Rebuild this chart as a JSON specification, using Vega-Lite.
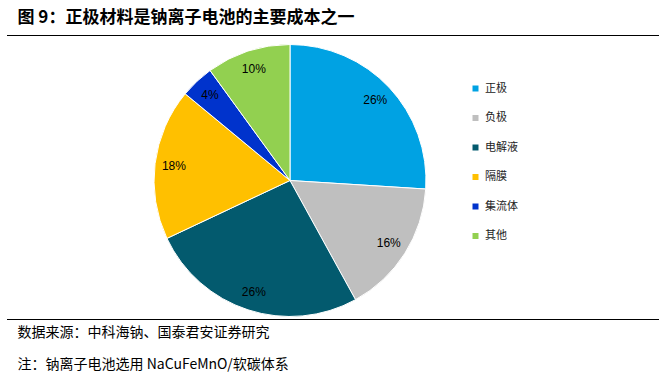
{
  "$schema": "https://vega.github.io/schema/vega-lite/v6.json",
  "autosize": {"type": "pad"},
  "padding": {"left": 6, "top": 9, "right": 0, "bottom": 0},
  "background": "white",
  "title": {
    "text": "图 9：正极材料是钠离子电池的主要成本之一",
    "anchor": "start",
    "font": "Noto Sans CJK SC",
    "fontSize": 17,
    "fontWeight": "bold",
    "color": "#000000",
    "offset": 8,
    "dx": 11
  },
  "datasets": {
    "cost": [
      {"cat": "正极", "pct": 0.26, "ord": 1},
      {"cat": "负极", "pct": 0.16, "ord": 2},
      {"cat": "电解液", "pct": 0.26, "ord": 3},
      {"cat": "隔膜", "pct": 0.18, "ord": 4},
      {"cat": "集流体", "pct": 0.04, "ord": 5},
      {"cat": "其他", "pct": 0.10, "ord": 6}
    ]
  },
  "vconcat": [
    {
      "width": 566,
      "height": 291,
      "title": {
        "text": ["数据来源：中科海钠、国泰君安证券研究", "注：钠离子电池选用 NaCuFeMnO/软碳体系"],
        "orient": "bottom",
        "anchor": "start",
        "font": "Noto Sans CJK SC",
        "fontSize": 14,
        "fontWeight": "normal",
        "color": "#000000",
        "lineHeight": 32,
        "offset": 0,
        "dx": 11
      },
      "layer": [
        {
          "data": {"name": "cost"},
          "mark": {"type": "arc", "outerRadius": 136, "stroke": "white", "strokeWidth": 1},
          "encoding": {
            "theta": {"field": "pct", "type": "quantitative", "stack": true},
            "order": {"field": "ord", "type": "quantitative"},
            "color": {
              "field": "cat",
              "type": "nominal",
              "sort": ["正极", "负极", "电解液", "隔膜", "集流体", "其他"],
              "scale": {
                "domain": ["正极", "负极", "电解液", "隔膜", "集流体", "其他"],
                "range": ["#00A2E3", "#BFBFBF", "#035A6E", "#FFC000", "#0033CC", "#92D050"]
              },
              "legend": {
                "orient": "none",
                "legendX": 463,
                "legendY": 48,
                "title": null,
                "symbolType": "square",
                "symbolSize": 36,
                "symbolStrokeWidth": 0,
                "labelFont": "Noto Sans CJK SC",
                "labelFontSize": 11,
                "labelColor": "#222222",
                "labelOffset": 4,
                "rowPadding": 17.5
              }
            }
          }
        },
        {
          "data": {"name": "cost"},
          "mark": {"type": "text", "radius": 117, "font": "Liberation Sans", "fontSize": 12, "color": "#000000"},
          "encoding": {
            "theta": {"field": "pct", "type": "quantitative", "stack": true},
            "order": {"field": "ord", "type": "quantitative"},
            "text": {"field": "pct", "type": "quantitative", "format": ".0%"}
          }
        },
        {
          "data": {"values": [{}]},
          "mark": {"type": "rule", "color": "#000000", "strokeWidth": 1},
          "encoding": {"y": {"value": 0.5}, "x": {"value": 0}, "x2": {"value": 652}}
        },
        {
          "data": {"values": [{}]},
          "mark": {"type": "rule", "color": "#000000", "strokeWidth": 1},
          "encoding": {"y": {"value": 284.5}, "x": {"value": 0}, "x2": {"value": 652}}
        }
      ]
    }
  ],
  "config": {"view": {"stroke": null}, "font": "Noto Sans CJK SC"}
}
